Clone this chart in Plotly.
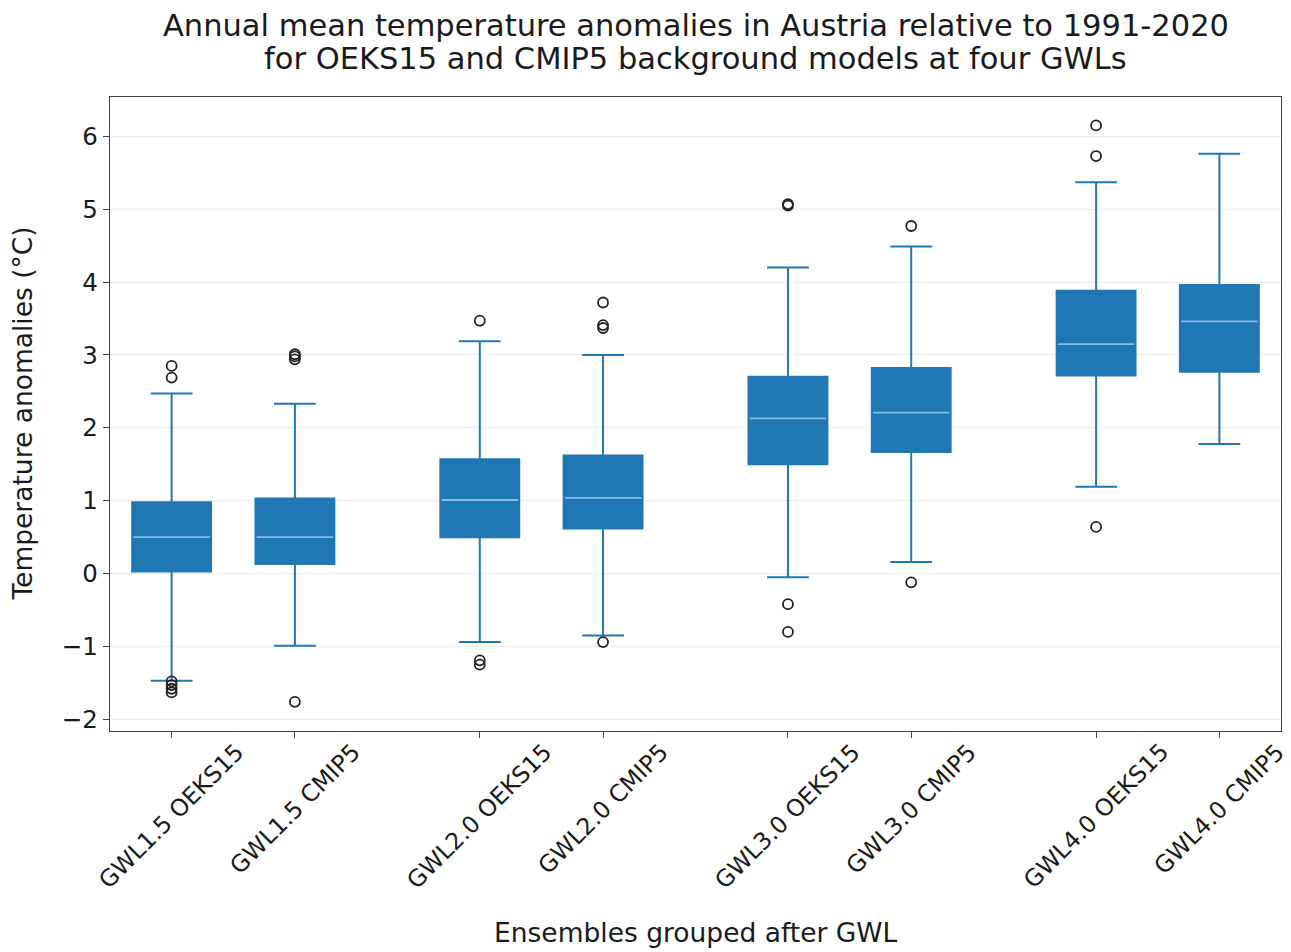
import plotly.graph_objects as go

# ---------------- data ----------------
categories = ["GWL1.5 OEKS15", "GWL1.5 CMIP5", "GWL2.0 OEKS15", "GWL2.0 CMIP5",
              "GWL3.0 OEKS15", "GWL3.0 CMIP5", "GWL4.0 OEKS15", "GWL4.0 CMIP5"]
positions = [1, 2, 3.5, 4.5, 6, 7, 8.5, 9.5]

q1 = [0.03, 0.13, 0.50, 0.62, 1.50, 1.67, 2.72, 2.77]
median = [0.50, 0.50, 1.01, 1.04, 2.13, 2.21, 3.15, 3.46]
q3 = [0.98, 1.03, 1.57, 1.62, 2.70, 2.82, 3.88, 3.96]
lower_whisker = [-1.47, -0.99, -0.94, -0.85, -0.05, 0.16, 1.19, 1.78]
upper_whisker = [2.47, 2.33, 3.19, 3.00, 4.20, 4.49, 5.37, 5.76]

outliers = [
    [2.85, 2.69, -1.48, -1.53, -1.58, -1.63],
    [3.01, 2.98, 2.94, -1.76],
    [3.47, -1.19, -1.25],
    [3.72, 3.41, 3.37, -0.94],
    [5.07, 5.05, -0.42, -0.80],
    [4.77, -0.12],
    [6.15, 5.73, 0.64],
    [],
]

ytick_vals = [-2, -1, 0, 1, 2, 3, 4, 5, 6]
ytick_text = ["\u22122", "\u22121", "0", "1", "2", "3", "4", "5", "6"]

title_lines = ["Annual mean temperature anomalies in Austria relative to 1991-2020",
               "for OEKS15 and CMIP5 background models at four GWLs"]
xlabel = "Ensembles grouped after GWL"
ylabel = "Temperature anomalies (\u00b0C)"

# ---------------- styling ----------------
BLUE = "#1f77b4"
FONT = "DejaVu Sans"
TXT = "#1a1a1a"
box_w = 0.64

fig = go.Figure()

fig.add_trace(go.Box(
    x=positions, q1=q1, median=median, q3=q3,
    lowerfence=lower_whisker, upperfence=upper_whisker,
    width=box_w, whiskerwidth=0.53,
    fillcolor=BLUE, line=dict(color=BLUE, width=2),
    boxpoints=False, showlegend=False, hoverinfo="skip",
))

# median lines (lighter)
mx, my = [], []
for p, m in zip(positions, median):
    mx += [p - box_w / 2 + 0.01, p + box_w / 2 - 0.01, None]
    my += [m, m, None]
fig.add_trace(go.Scatter(x=mx, y=my, mode="lines",
                         line=dict(color="rgba(150,195,235,0.9)", width=1.8),
                         showlegend=False, hoverinfo="skip"))

# outliers
ox, oy = [], []
for p, outs in zip(positions, outliers):
    for v in outs:
        ox.append(p)
        oy.append(v)
fig.add_trace(go.Scatter(x=ox, y=oy, mode="markers",
                         marker=dict(symbol="circle-open", size=10,
                                     color="#222222", line=dict(width=1.8, color="#222222")),
                         showlegend=False, hoverinfo="skip"))

# rotated x tick labels (centred under ticks)
for p, c in zip(positions, categories):
    fig.add_annotation(x=p, y=-0.007, xref="x", yref="paper", text=c,
                       textangle=-45, showarrow=False, xanchor="center", yanchor="top",
                       font=dict(family=FONT, size=23.5, color=TXT))

# title (two centred lines)
for yy, line in zip([1.1135, 1.0605], title_lines):
    fig.add_annotation(x=0.5, y=yy, xref="paper", yref="paper", text=line,
                       showarrow=False, xanchor="center", yanchor="middle",
                       font=dict(family=FONT, size=30.5, color=TXT))

fig.add_annotation(x=0.5, y=-0.318, xref="paper", yref="paper", text=xlabel,
                   showarrow=False, xanchor="center", yanchor="middle",
                   font=dict(family=FONT, size=26.5, color=TXT))
fig.add_annotation(x=-0.0755, y=0.5, xref="paper", yref="paper", text=ylabel,
                   textangle=-90, showarrow=False, xanchor="center", yanchor="middle",
                   font=dict(family=FONT, size=26.5, color=TXT))

fig.update_layout(
    width=1283, height=944,
    margin=dict(l=102, r=10, t=89, b=221, autoexpand=False),
    paper_bgcolor="white", plot_bgcolor="white",
    font=dict(family=FONT, color=TXT),
    showlegend=False,
)

fig.update_xaxes(range=[0.5, 10], tickvals=positions, ticktext=[""] * len(positions),
                 ticks="outside", ticklen=6, tickwidth=1.2, tickcolor="#444",
                 showgrid=False, zeroline=False,
                 showline=True, linecolor="#444", linewidth=1.3, mirror=True)
fig.update_yaxes(range=[-2.16, 6.54], tickvals=ytick_vals, ticktext=ytick_text,
                 ticks="outside", ticklen=6, tickwidth=1.2, tickcolor="#444",
                 tickfont=dict(family=FONT, size=24.5, color=TXT),
                 showgrid=True, gridcolor="#ececec", gridwidth=1.2, zeroline=False,
                 showline=True, linecolor="#444", linewidth=1.3, mirror=True)

fig.write_html("out.html")
